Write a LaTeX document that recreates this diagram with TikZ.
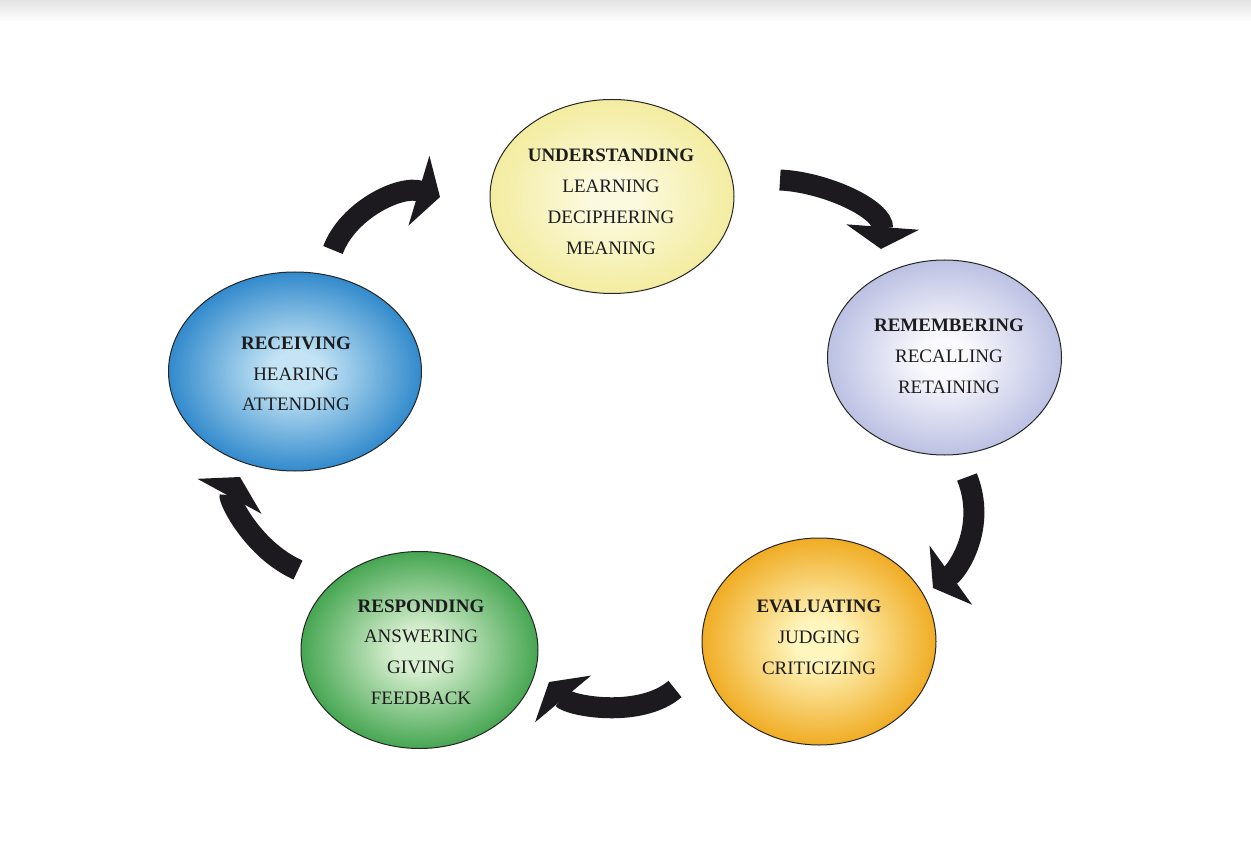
\documentclass[tikz,border=0pt]{standalone}
\usepackage{fontspec}
\setmainfont{Liberation Serif}
\usetikzlibrary{shapes.geometric,arrows.meta}
\definecolor{uIn}{RGB}{252,250,222}
\definecolor{uOut}{RGB}{243,236,160}
\definecolor{mIn}{RGB}{250,250,253}
\definecolor{mOut}{RGB}{188,193,227}
\definecolor{eIn}{RGB}{255,246,190}
\definecolor{eOut}{RGB}{240,172,36}
\definecolor{pIn}{RGB}{218,240,210}
\definecolor{pOut}{RGB}{70,166,82}
\definecolor{rIn}{RGB}{196,228,245}
\definecolor{rOut}{RGB}{50,138,204}
\definecolor{ink}{RGB}{28,28,28}
\definecolor{arrowc}{RGB}{28,26,30}
\newcommand\mkshade[3]{\pgfdeclareradialshading{#1}{\pgfpoint{0bp}{0bp}}{color(0bp)=(#2); color(5bp)=(#2); color(25bp)=(#3); color(50bp)=(#3)}}
\mkshade{shU}{uIn}{uOut}
\mkshade{shM}{mIn}{mOut}
\mkshade{shE}{eIn}{eOut}
\mkshade{shP}{pIn}{pOut}
\mkshade{shR}{rIn}{rOut}
\tikzset{
  bub/.style={ellipse, draw=black!85, line width=1pt, inner sep=0pt},
  txt/.style={align=center, text=ink, inner sep=0pt, font=\fontsize{19}{30.8}\selectfont},
  cyc/.style={draw=arrowc, line width=21pt, -{Triangle[width=72pt,length=22pt]}}
}
\begin{document}
\begin{tikzpicture}[x=1pt,y=-1pt]
\useasboundingbox (0,0) rectangle (1251,842);
\fill[white] (0,0) rectangle (1251,842);
\fill[top color=black!11, bottom color=white] (0,0) rectangle (1251,22);

% bubbles
\node[bub, shading=shU, minimum width=244pt, minimum height=194pt] (und) at (612,196.5) {};
\node[bub, shading=shM, minimum width=234pt, minimum height=195pt] (rem) at (944.5,357.5) {};
\node[bub, shading=shE, minimum width=234pt, minimum height=207pt] (eva) at (819,641.5) {};
\node[bub, shading=shP, minimum width=237pt, minimum height=197pt] (res) at (419.5,650) {};
\node[bub, shading=shR, minimum width=253pt, minimum height=199pt] (rcv) at (295,371.5) {};

% texts
\node[txt] (undt) at (611,202) {\textbf{UNDERSTANDING}\\LEARNING\\DECIPHERING\\MEANING};
\node[txt] (remt) at (949,356.5) {\textbf{REMEMBERING}\\RECALLING\\RETAINING};
\node[txt] (evat) at (819,637) {\textbf{EVALUATING}\\JUDGING\\CRITICIZING};
\node[txt] (rest) at (421,652) {\textbf{RESPONDING}\\ANSWERING\\GIVING\\FEEDBACK};
\node[txt] (rcvt) at (296,374) {\textbf{RECEIVING}\\HEARING\\ATTENDING};

% arrow end points
\coordinate (a1s) at (333,250);
\coordinate (a1e) at (440,197);
\coordinate (a2s) at (780,180);
\coordinate (a2e) at (881,249);
\coordinate (a3s) at (967,477);
\coordinate (a3e) at (933,588);
\coordinate (a4s) at (675,689);
\coordinate (a4e) at (549,682);
\coordinate (a5s) at (298,570);
\coordinate (a5e) at (240,477);

% cycle arrows
\draw[cyc] (a1s) .. controls +(15,-40) and +(-40,-12) .. (a1e);
\draw[cyc] (a2s) .. controls +(45,2) and +(3,-40) .. (a2e);
\draw[cyc] (a3s) .. controls +(20,50) and +(25,-18) .. (a3e);
\draw[cyc] (a4s) .. controls +(-35,30) and +(20,24) .. (a4e);
\draw[cyc] (a5s) .. controls +(-45,-20) and +(-12,22) .. (a5e);
\end{tikzpicture}
\end{document}
